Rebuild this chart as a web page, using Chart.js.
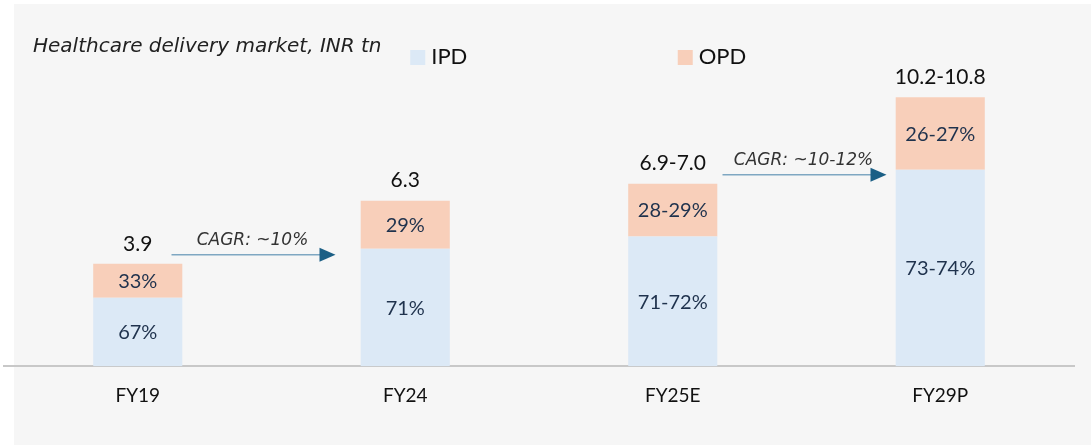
<!DOCTYPE html>
<html>
<head>
<meta charset="utf-8">
<script src="https://cdn.jsdelivr.net/npm/chart.js@4.4.1/dist/chart.umd.min.js"></script>
<style>
  html, body { margin: 0; padding: 0; background: #ffffff; }
  #wrap { width: 1091px; height: 445px; }
</style>
</head>
<body>
<div id="wrap"><canvas id="myChart"></canvas></div>
<script>
//data
const categories = ["FY19", "FY24", "FY25E", "FY29P"];
const ipdValues = [2.61, 4.47, 4.94, 7.48];
const opdValues = [1.29, 1.83, 2.01, 2.76];
const ipdShareLabels = ["67%", "71%", "71-72%", "73-74%"];
const opdShareLabels = ["33%", "29%", "28-29%", "26-27%"];
const totalLabels = ["3.9", "6.3", "6.9-7.0", "10.2-10.8"];
const cagrFrom = [0, 2];
const cagrTo = [1, 3];
const cagrLabels = ["CAGR: ~10%", "CAGR: ~10-12%"];
const chartTitle = "Healthcare delivery market, INR tn";

const IPD_COLOR = "#dce9f6";
const OPD_COLOR = "#f8cfba";

// background panel, labels, arrows, title and legend
const overlay = {
  id: "overlay",
  beforeDraw(chart) {
    const ctx = chart.ctx;
    ctx.save();
    ctx.fillStyle = "#ffffff";
    ctx.fillRect(0, 0, chart.width, chart.height);
    ctx.fillStyle = "#f6f6f6";
    ctx.fillRect(14, 4, chart.width - 14, chart.height - 4);
    ctx.restore();
  },
  afterDatasetsDraw(chart) {
    const ctx = chart.ctx;
    const xs = chart.scales.x;
    const ipdMeta = chart.getDatasetMeta(0);
    const opdMeta = chart.getDatasetMeta(1);
    ctx.save();
    ctx.textAlign = "center";
    ctx.textBaseline = "middle";

    // share labels inside the segments
    ctx.font = "20px Lato";
    ctx.fillStyle = "#1f324d";
    ipdMeta.data.forEach((bar, i) => {
      ctx.fillText(ipdShareLabels[i], bar.x, (bar.y + bar.base) / 2 + 1);
    });
    opdMeta.data.forEach((bar, i) => {
      ctx.fillText(opdShareLabels[i], bar.x, (bar.y + bar.base) / 2 + 1);
    });

    // totals above the bars
    ctx.font = "21px Lato";
    ctx.fillStyle = "#111111";
    opdMeta.data.forEach((bar, i) => {
      ctx.fillText(totalLabels[i], bar.x, bar.y - 20);
    });

    // CAGR arrows
    const arrowShift = [-18, -2];
    for (let k = 0; k < cagrLabels.length; k++) {
      const a = xs.getPixelForValue(cagrFrom[k]);
      const b = xs.getPixelForValue(cagrTo[k]);
      const mid = (a + b) / 2 + arrowShift[k];
      const half = 82;
      const y = opdMeta.data[cagrFrom[k]].y - 9;
      ctx.strokeStyle = "#7fa7c2";
      ctx.lineWidth = 1.5;
      ctx.beginPath();
      ctx.moveTo(mid - half, y);
      ctx.lineTo(mid + half - 14, y);
      ctx.stroke();
      ctx.fillStyle = "#1b5f85";
      ctx.beginPath();
      ctx.moveTo(mid + half - 16, y - 7);
      ctx.lineTo(mid + half, y);
      ctx.lineTo(mid + half - 16, y + 7);
      ctx.closePath();
      ctx.fill();
      ctx.fillStyle = "#333333";
      ctx.font = "italic 17px 'DejaVu Sans'";
      ctx.fillText(cagrLabels[k], mid - 1, y - 14);
    }

    // title
    ctx.textAlign = "left";
    ctx.fillStyle = "#222222";
    ctx.font = "italic 20px 'DejaVu Sans'";
    ctx.fillText(chartTitle, 33, 47);

    // legend
    ctx.font = "22px Lato";
    chart.data.datasets.forEach((ds, i) => {
      const lx = xs.getPixelForValue(i + 1) + 5;
      ctx.fillStyle = ds.backgroundColor;
      ctx.fillRect(lx, 50, 15, 15);
      ctx.fillStyle = "#111111";
      ctx.fillText(ds.label, lx + 21, 57);
    });
    ctx.restore();
  }
};

//config
const data = {
  labels: categories,
  datasets: [
    { label: "IPD", data: ipdValues, backgroundColor: IPD_COLOR, borderWidth: 0 },
    { label: "OPD", data: opdValues, backgroundColor: OPD_COLOR, borderWidth: 0 }
  ]
};

const config = {
  type: "bar",
  data: data,
  options: {
    responsive: true,
    maintainAspectRatio: false,
    animation: false,
    layout: { padding: { left: 4, right: 17, top: 51, bottom: 20 } },
    datasets: { bar: { categoryPercentage: 1, barPercentage: 0.333 } },
    scales: {
      x: {
        stacked: true,
        grid: { display: false, drawTicks: false },
        border: { display: true, color: "#c8c8c8", width: 2 },
        ticks: { color: "#111111", font: { family: "Lato", size: 19 }, padding: 18 }
      },
      y: {
        stacked: true,
        display: false,
        min: 0,
        max: 12
      }
    },
    plugins: {
      legend: { display: false },
      tooltip: { enabled: false }
    }
  },
  plugins: [overlay]
};

const myChart = new Chart(document.getElementById("myChart"), config);
</script>
</body>
</html>
